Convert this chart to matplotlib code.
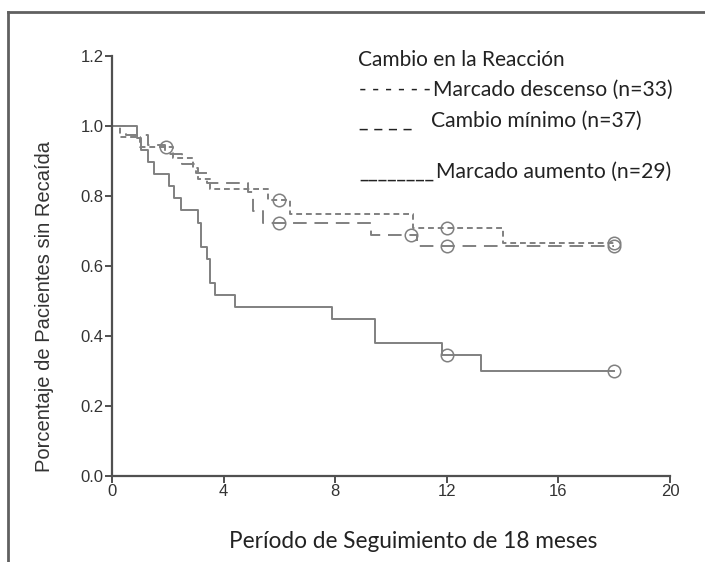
import matplotlib
matplotlib.use("Agg")
import matplotlib.pyplot as plt
from matplotlib.lines import Line2D

# Kaplan-Meier style step data (months, proportion relapse-free)
t_descenso = [0, 0.3, 1.0, 2.2, 2.9, 3.1, 3.5, 5.6, 6.37, 10.79, 14.0, 18]
s_descenso = [1.0, 0.97, 0.94, 0.91, 0.88, 0.85, 0.82, 0.79, 0.75, 0.71, 0.665, 0.665]
c_descenso_t = [1.92, 6.0, 12.0, 18.0]
c_descenso_s = [0.94, 0.79, 0.71, 0.665]

t_minimo = [0, 0.5, 1.3, 1.9, 2.5, 3.0, 3.4, 4.87, 5.05, 5.41, 9.3, 10.93, 18]
s_minimo = [1.0, 0.973, 0.946, 0.919, 0.892, 0.865, 0.838, 0.811, 0.757, 0.722, 0.69, 0.657, 0.657]
c_minimo_t = [6.0, 10.73, 12.0, 18.0]
c_minimo_s = [0.722, 0.69, 0.657, 0.657]

t_aumento = [0, 0.91, 1.05, 1.29, 1.51, 2.04, 2.21, 2.49, 3.08, 3.18, 3.41, 3.50, 3.68, 4.40, 7.89, 9.43, 11.83, 13.24, 18]
s_aumento = [1.0, 0.966, 0.931, 0.897, 0.862, 0.828, 0.793, 0.759, 0.724, 0.655, 0.621, 0.552, 0.517, 0.483, 0.448, 0.379, 0.345, 0.30, 0.30]
c_aumento_t = [12.0, 18.0]
c_aumento_s = [0.345, 0.30]

x_ticks = [0, 4, 8, 12, 16, 20]
y_ticks = [0.0, 0.2, 0.4, 0.6, 0.8, 1.0, 1.2]

legend_title = "Cambio en la Reacción"
legend_marks = ["- - - - - -", "_ _ _ _", "________"]
legend_labels = ["Marcado descenso (n=33)", "Cambio mínimo (n=37)", "Marcado aumento (n=29)"]

line_col = "#808080"
axis_col = "#505050"
text_font = ["Lato", "DejaVu Sans"]
tick_font = ["Liberation Sans", "DejaVu Sans"]

W, H = 705, 562
fig = plt.figure(figsize=(W / 100, H / 100), dpi=100)
ax = fig.add_axes([112 / W, 1 - 476 / H, (670 - 112) / W, (476 - 56) / H])

ax.step(t_descenso, s_descenso, where="post", color=line_col, lw=1.4,
        linestyle=(0, (3, 2)))
ax.step(t_minimo, s_minimo, where="post", color=line_col, lw=1.4,
        linestyle=(0, (7, 4)))
ax.step(t_aumento, s_aumento, where="post", color=line_col, lw=1.4)

for ct, cs in [(c_descenso_t, c_descenso_s), (c_minimo_t, c_minimo_s), (c_aumento_t, c_aumento_s)]:
    ax.plot(ct, cs, linestyle="none", marker="o", ms=9, mfc="none",
            mec=line_col, mew=1.1)

ax.set_xlim(0, 20)
ax.set_ylim(0, 1.2)
ax.set_xticks(x_ticks)
ax.set_yticks(y_ticks)
ax.set_xticklabels([str(v) for v in x_ticks], fontfamily=tick_font, fontsize=12, color="#333333")
ax.set_yticklabels([f"{v:.1f}" for v in y_ticks], fontfamily=tick_font, fontsize=12, color="#333333")
for side in ["top", "right"]:
    ax.spines[side].set_visible(False)
for side in ["left", "bottom"]:
    ax.spines[side].set_color(axis_col)
    ax.spines[side].set_linewidth(1.6)
ax.tick_params(direction="out", length=5, width=1.4, color=axis_col, pad=1)

ax.set_ylabel("Porcentaje de Pacientes sin Recaída", fontfamily=tick_font,
              fontsize=14.5, color="#333333")
ax.yaxis.set_label_coords((54 - 112) / 558, (476 - 307) / 420)
ax.set_xlabel("Período de Seguimiento de 18 meses", fontfamily=text_font,
              fontsize=16.3, color="#222222")
ax.xaxis.set_label_coords((413 - 112) / 558, (476 - 541) / 420)
ax.xaxis.label.set_va("center")

# legend written as plain text lines
fig.text(358 / W, 1 - 60 / H, legend_title, fontfamily=text_font,
         fontsize=15, color="#222222", va="center", ha="left")
rows_y = [90, 121, 172]
label_x = [433, 431, 436]
for y, mark, lab, lx in zip(rows_y, legend_marks, legend_labels, label_x):
    fig.text(359 / W, 1 - y / H, mark, fontfamily=text_font, fontsize=14.8,
             color="#222222", va="center", ha="left")
    fig.text(lx / W, 1 - y / H, lab, fontfamily=text_font, fontsize=15.2,
             color="#222222", va="center", ha="left")

# outer frame (left and top edges)
fig.add_artist(Line2D([8 / W, 8 / W], [0, 1 - 12 / H], transform=fig.transFigure,
                      color="#606060", lw=2))
fig.add_artist(Line2D([8 / W, 1], [1 - 12 / H, 1 - 12 / H], transform=fig.transFigure,
                      color="#606060", lw=2))

fig.savefig("out.png", dpi=100)
